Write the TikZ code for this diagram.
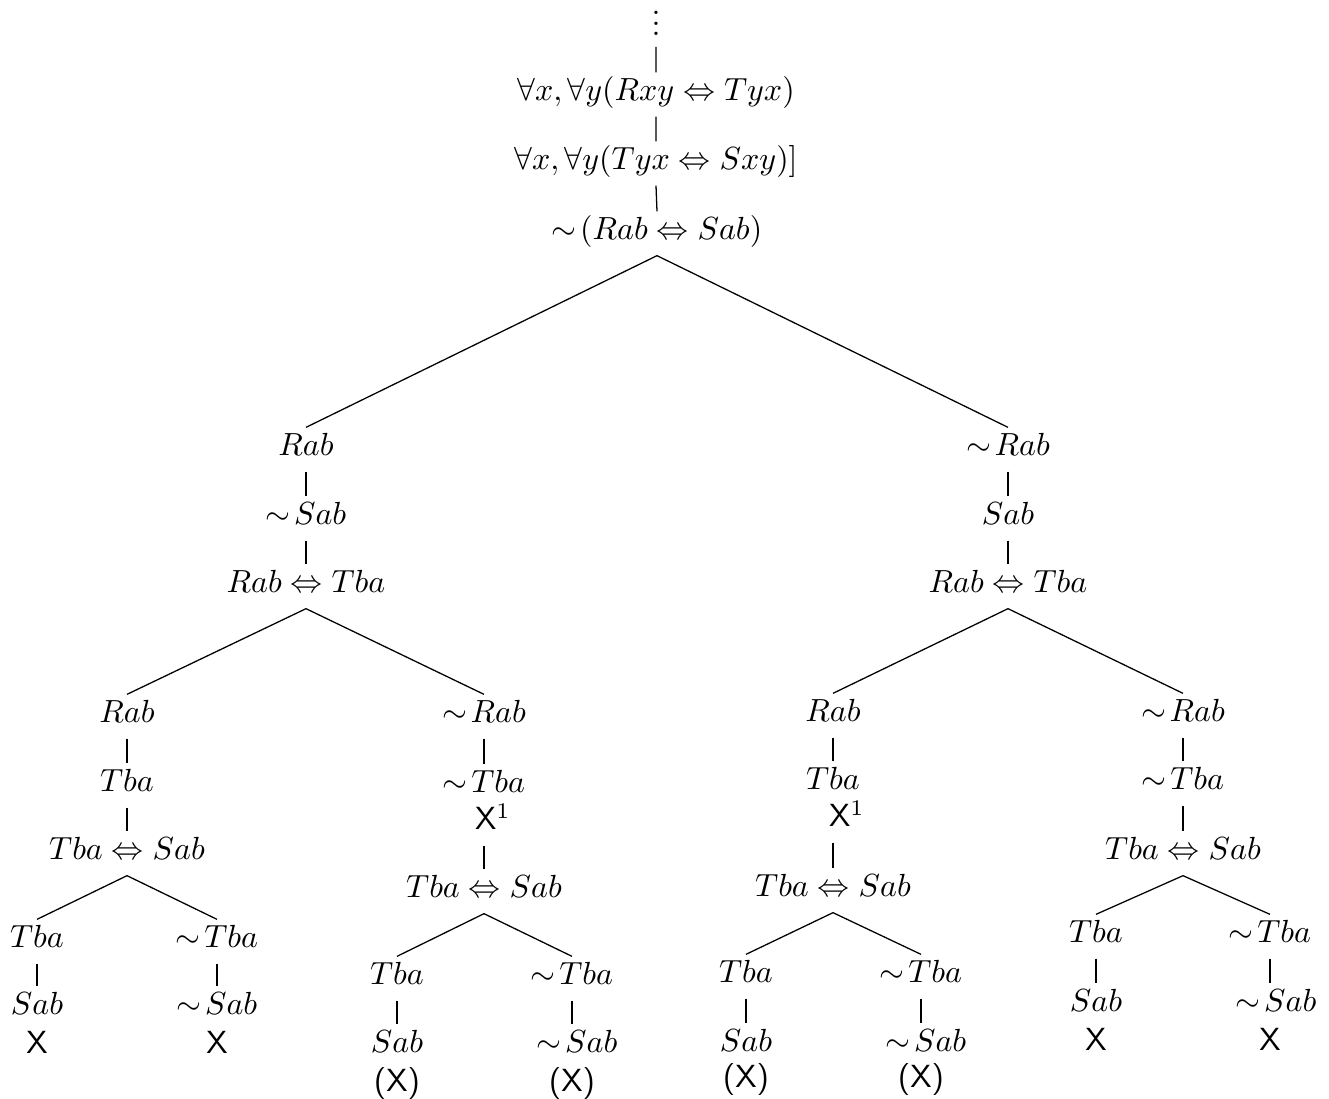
\documentclass[tikz,border=0pt]{standalone}
\usepackage{amsmath,amssymb}
\usepackage{tikz}
\newcommand{\tnot}{{\sim}\mkern2mu}
\newcommand{\clos}{\textsf{X}}
\newcommand{\tdots}{\vbox{\baselineskip3.4pt\lineskiplimit0pt\hbox{.}\hbox{.}\hbox{.}}}

\begin{document}
\begin{tikzpicture}[x=1.0984cm,y=-1.0984cm,
  fml/.style={anchor=base,inner sep=3pt,text height=5.75pt,text depth=1.7pt}]
\useasboundingbox (0,0) rectangle (13.29,10.99);
\node[fml,inner sep=1.5pt] (dots) at (6.56,0.36) {\tdots};
\node[fml] (f1) at (6.56,1.01) {$\forall x,\forall y(Rxy\Leftrightarrow Tyx)$};
\node[fml] (f2) at (6.56,1.70) {$\forall x,\forall y(Tyx\Leftrightarrow Sxy)]$};
\node[fml] (neg) at (6.57,2.40) {$\tnot(Rab\Leftrightarrow Sab)$};
\draw (dots.south) -- (f1.north) (f1.south) -- (f2.north) (f2.south) -- (neg.north);
% left half
\node[fml] (la) at (3.06,4.56) {$Rab$};
\node[fml] (lb) at (3.06,5.25) {$\tnot Sab$};
\node[fml] (lc) at (3.06,5.93) {$Rab\Leftrightarrow Tba$};
\node[fml] (lla) at (1.27,7.23) {$Rab$};
\node[fml] (llb) at (1.27,7.92) {$Tba$};
\node[fml] (llc) at (1.27,8.60) {$Tba\Leftrightarrow Sab$};
\node[fml] (lll1) at (0.37,9.48) {$Tba$};
\node[fml] (lll2) at (0.37,10.15) {$Sab$};
\node[fml] (lll3) at (0.37,10.54) {\clos};
\node[fml] (llr1) at (2.17,9.48) {$\tnot Tba$};
\node[fml] (llr2) at (2.17,10.15) {$\tnot Sab$};
\node[fml] (llr3) at (2.17,10.54) {\clos};
\node[fml] (lra) at (4.84,7.23) {$\tnot Rab$};
\node[fml] (lrb) at (4.84,7.93) {$\tnot Tba$};
\node[fml] (lrx) at (4.93,8.30) {\clos$^1$};
\node[fml] (lrc) at (4.84,8.98) {$Tba\Leftrightarrow Sab$};
\node[fml] (lrl1) at (3.97,9.85) {$Tba$};
\node[fml] (lrl2) at (3.97,10.53) {$Sab$};
\node[fml] (lrl3) at (3.97,10.92) {\textsf{(X)}};
\node[fml] (lrr1) at (5.72,9.85) {$\tnot Tba$};
\node[fml] (lrr2) at (5.77,10.53) {$\tnot Sab$};
\node[fml] (lrr3) at (5.72,10.92) {\textsf{(X)}};
\draw (la.south) -- (lb.north) (lb.south) -- (lc.north);
\draw (lc.south) -- (lla.north) (lc.south) -- (lra.north);
\draw (lla.south) -- (llb.north) (llb.south) -- (llc.north);
\draw (llc.south) -- (lll1.north) (llc.south) -- (llr1.north);
\draw (lll1.south) -- (lll2.north) (llr1.south) -- (llr2.north);
\draw (lra.south) -- (lrb.north) (lrx.south -| lrc.north) -- (lrc.north);
\draw (lrc.south) -- (lrl1.north) (lrc.south) -- (lrr1.north);
\draw (lrl1.south) -- (lrl2.north) (lrr1.south) -- (lrr1.south |- lrr2.north);
% right half
\node[fml] (ra) at (10.08,4.56) {$\tnot Rab$};
\node[fml] (rb) at (10.08,5.25) {$Sab$};
\node[fml] (rc) at (10.08,5.93) {$Rab\Leftrightarrow Tba$};
\node[fml] (rla) at (8.33,7.22) {$Rab$};
\node[fml] (rlb) at (8.33,7.90) {$Tba$};
\node[fml] (rlx) at (8.47,8.27) {\clos$^1$};
\node[fml] (rlc) at (8.33,8.97) {$Tba\Leftrightarrow Sab$};
\node[fml] (rll1) at (7.46,9.83) {$Tba$};
\node[fml] (rll2) at (7.46,10.52) {$Sab$};
\node[fml] (rll3) at (7.46,10.88) {\textsf{(X)}};
\node[fml] (rlr1) at (9.21,9.83) {$\tnot Tba$};
\node[fml] (rlr2) at (9.26,10.52) {$\tnot Sab$};
\node[fml] (rlr3) at (9.21,10.88) {\textsf{(X)}};
\node[fml] (rra) at (11.83,7.22) {$\tnot Rab$};
\node[fml] (rrb) at (11.83,7.90) {$\tnot Tba$};
\node[fml] (rrc) at (11.83,8.60) {$Tba\Leftrightarrow Sab$};
\node[fml] (rrl1) at (10.96,9.43) {$Tba$};
\node[fml] (rrl2) at (10.96,10.12) {$Sab$};
\node[fml] (rrl3) at (10.96,10.51) {\clos};
\node[fml] (rrr1) at (12.70,9.43) {$\tnot Tba$};
\node[fml] (rrr2) at (12.76,10.12) {$\tnot Sab$};
\node[fml] (rrr3) at (12.70,10.51) {\clos};
\draw (ra.south) -- (rb.north) (rb.south) -- (rc.north);
\draw (rc.south) -- (rla.north) (rc.south) -- (rra.north);
\draw (rla.south) -- (rlb.north) (rlx.south -| rlc.north) -- (rlc.north);
\draw (rlc.south) -- (rll1.north) (rlc.south) -- (rlr1.north);
\draw (rll1.south) -- (rll2.north) (rlr1.south) -- (rlr1.south |- rlr2.north);
\draw (rra.south) -- (rrb.north) (rrb.south) -- (rrc.north);
\draw (rrc.south) -- (rrl1.north) (rrc.south) -- (rrr1.north);
\draw (rrl1.south) -- (rrl2.north) (rrr1.south) -- (rrr1.south |- rrr2.north);
% main split
\draw (neg.south) -- (la.north) (neg.south) -- (ra.north);
\end{tikzpicture}
\end{document}
